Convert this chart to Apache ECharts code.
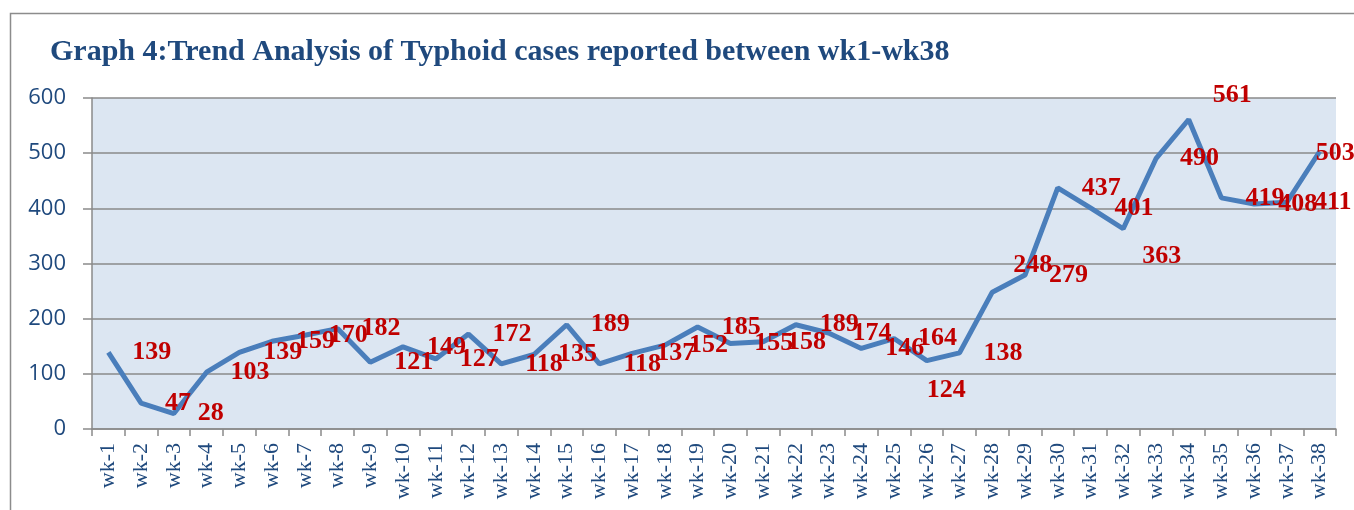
<!DOCTYPE html>
<html>
<head>
<meta charset="utf-8">
<title>Typhoid trend</title>
<script src="https://cdn.jsdelivr.net/npm/echarts@6/dist/echarts.min.js"></script>
<style>
  html, body { margin: 0; padding: 0; background: #fff; }
  #chart { width: 1354px; height: 510px; }
</style>
</head>
<body>
<div id="chart"></div>
<script>
// weeks wk-1 .. wk-38
const weeks = ['wk-1','wk-2','wk-3','wk-4','wk-5','wk-6','wk-7','wk-8','wk-9','wk-10',
  'wk-11','wk-12','wk-13','wk-14','wk-15','wk-16','wk-17','wk-18','wk-19','wk-20',
  'wk-21','wk-22','wk-23','wk-24','wk-25','wk-26','wk-27','wk-28','wk-29','wk-30',
  'wk-31','wk-32','wk-33','wk-34','wk-35','wk-36','wk-37','wk-38'];
const cases = [139, 47, 28, 103, 139, 159, 170, 182, 121, 149,
  127, 172, 118, 135, 189, 118, 137, 152, 185, 155,
  158, 189, 174, 146, 164, 124, 138, 248, 279, 437,
  401, 363, 490, 561, 419, 408, 411, 503];
const yTicks = [0, 100, 200, 300, 400, 500, 600];

// a few labels were dragged around by hand in the original (keyed by data index)
const labelNudge = { 25: [-24, 30], 27: [-3, -27], 31: [-5, 28], 33: [0, -24], 36: [3, 0], 37: [-28, 2] };

const chart = echarts.init(document.getElementById('chart'));

const axisGrey = '#8a8a8a';
const navy = '#1F497D';

const option = {
  animation: false,
  backgroundColor: '#fff',
  title: {
    text: 'Graph 4:Trend Analysis of Typhoid cases reported between wk1-wk38',
    left: 45,
    top: 32,
    textStyle: { fontFamily: 'Liberation Serif', fontWeight: 'bold', fontSize: 30, color: navy }
  },
  graphic: [{
    type: 'rect',
    left: 8, top: 11,
    shape: { width: 1400, height: 600 },
    style: { fill: 'none', stroke: '#8c8c8c', lineWidth: 1.5 },
    silent: true
  }],
  grid: { left: 92, top: 98, right: 18, bottom: 81, show: true, backgroundColor: '#DCE6F2', borderWidth: 0 },
  xAxis: {
    type: 'category',
    data: weeks,
    boundaryGap: true,
    axisLine: { lineStyle: { color: axisGrey, width: 1.5 } },
    axisTick: { show: true, length: 7, lineStyle: { color: axisGrey, width: 1.5 } },
    axisLabel: { rotate: 90, margin: 14, interval: 0, fontFamily: 'Liberation Serif', fontSize: 22, color: navy }
  },
  yAxis: {
    type: 'value',
    min: yTicks[0],
    max: yTicks[yTicks.length - 1],
    interval: 100,
    axisLine: { show: true, lineStyle: { color: axisGrey, width: 1.5 } },
    axisTick: { show: true, length: 9, lineStyle: { color: axisGrey, width: 1.5 } },
    splitLine: { lineStyle: { color: axisGrey, width: 1.5 } },
    axisLabel: { margin: 26, fontFamily: 'Open Sans', fontSize: 22, color: navy }
  },
  series: [{
    type: 'line',
    data: cases,
    symbol: 'circle',
    symbolSize: 2,
    itemStyle: { color: 'rgba(0,0,0,0)' },
    lineStyle: { color: '#4A7EBB', width: 5 },
    label: {
      show: true,
      position: 'right',
      distance: 23,
      fontFamily: 'Liberation Serif',
      fontWeight: 'bold',
      fontSize: 26,
      color: '#C00000'
    },
    labelLayout: function (params) {
      const n = labelNudge[params.dataIndex];
      if (!n) return { hideOverlap: false };
      return { dx: n[0], dy: n[1], hideOverlap: false };
    }
  }]
};

chart.setOption(option);
</script>
</body>
</html>
